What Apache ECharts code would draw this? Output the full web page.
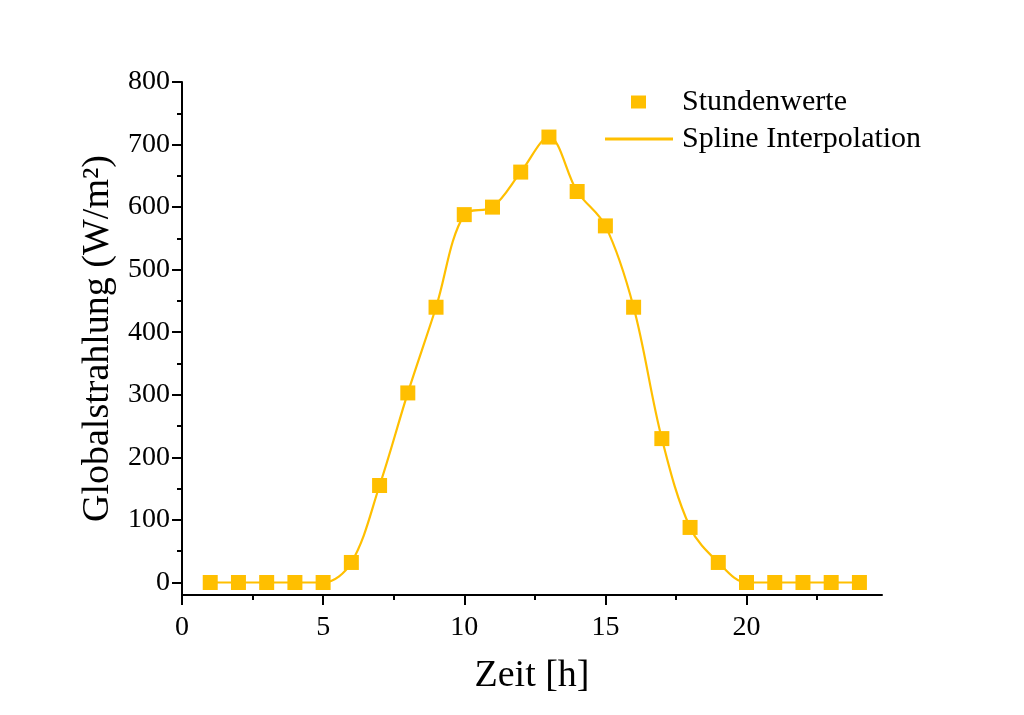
<!DOCTYPE html>
<html>
<head>
<meta charset="utf-8">
<script src="https://cdn.jsdelivr.net/npm/echarts@6/dist/echarts.min.js"></script>
<style>
html,body{margin:0;padding:0;background:#fff;}
#chart{width:1024px;height:715px;}
</style>
</head>
<body>
<div id="chart"></div>
<script>
var hours = [1,2,3,4,5,6,7,8,9,10,11,12,13,14,15,16,17,18,19,20,21,22,23,24];
var radiation = [0,0,0,0,0,32,155,303,440,588,600,656,712,625,570,440,230,88,32,0,0,0,0,0];
var xMajorTicks = [0,5,10,15,20];
var xMinorTicks = [2.5,7.5,12.5,17.5,22.5];
var yMajorTicks = [0,100,200,300,400,500,600,700,800];
var yMinorTicks = [50,150,250,350,450,550,650,750];
var seriesNames = ['Stundenwerte','Spline Interpolation'];
var xTitle = 'Zeit [h]';
var yTitle = 'Globalstrahlung (W/m²)';

var points = hours.map(function(h,i){return [h, radiation[i]];});
var FONT = '"Liberation Serif","DejaVu Serif",serif';
var COLOR = '#FFBF00';

var chart = echarts.init(document.getElementById('chart'), null, {renderer:'canvas'});
chart.setOption({
  animation:false,
  backgroundColor:'#fff',
  grid:{left:182, right:142, top:82, bottom:120, containLabel:false},
  legend:[
    {data:[{name:seriesNames[0], icon:'rect'}], left:631, top:87, padding:0,
     itemWidth:15, itemHeight:13,
     textStyle:{fontFamily:FONT, fontSize:30, color:'#000', lineHeight:30, padding:[0,0,0,31]}},
    {data:[{name:seriesNames[1], icon:'rect'}], left:605, top:124, padding:0,
     itemWidth:68, itemHeight:3,
     textStyle:{fontFamily:FONT, fontSize:30, color:'#000', lineHeight:30, padding:[0,0,0,4]}}
  ],
  xAxis:[
    {type:'value', min:0, max:24.8, position:'bottom',
     name:xTitle, nameLocation:'middle', nameGap:62,
     nameTextStyle:{fontFamily:FONT, fontSize:38, color:'#000'},
     axisLine:{show:true, onZero:false, lineStyle:{color:'#000', width:2}},
     axisTick:{show:true, inside:false, length:10, lineStyle:{color:'#000', width:2}, customValues:xMajorTicks},
     axisLabel:{show:true, margin:19, fontFamily:FONT, fontSize:28, color:'#000', customValues:xMajorTicks},
     splitLine:{show:false}},
    {type:'value', min:0, max:24.8, position:'bottom',
     axisLine:{show:false, onZero:false},
     axisTick:{show:true, inside:false, length:5, lineStyle:{color:'#000', width:2}, customValues:xMinorTicks},
     axisLabel:{show:false, customValues:xMinorTicks},
     splitLine:{show:false}}
  ],
  yAxis:[
    {type:'value', min:-20, max:800, position:'left',
     name:yTitle, nameLocation:'middle', nameGap:64, nameRotate:90,
     nameTextStyle:{fontFamily:FONT, fontSize:38, color:'#000'},
     axisLine:{show:true, onZero:false, lineStyle:{color:'#000', width:2}},
     axisTick:{show:true, inside:false, length:10, lineStyle:{color:'#000', width:2}, customValues:yMajorTicks},
     axisLabel:{show:true, margin:12, fontFamily:FONT, fontSize:28, color:'#000', customValues:yMajorTicks},
     splitLine:{show:false}},
    {type:'value', min:-20, max:800, position:'left',
     axisLine:{show:false, onZero:false},
     axisTick:{show:true, inside:false, length:5, lineStyle:{color:'#000', width:2}, customValues:yMinorTicks},
     axisLabel:{show:false, customValues:yMinorTicks},
     splitLine:{show:false}}
  ],
  series:[
    {name:seriesNames[1], type:'line', data:points, smooth:0.35, symbol:'none',
     itemStyle:{color:COLOR}, lineStyle:{color:COLOR, width:2.2}, z:2},
    {name:seriesNames[0], type:'scatter', data:points, symbol:'rect', symbolSize:15,
     itemStyle:{color:COLOR, opacity:1}, z:3}
  ]
});
</script>
</body>
</html>
